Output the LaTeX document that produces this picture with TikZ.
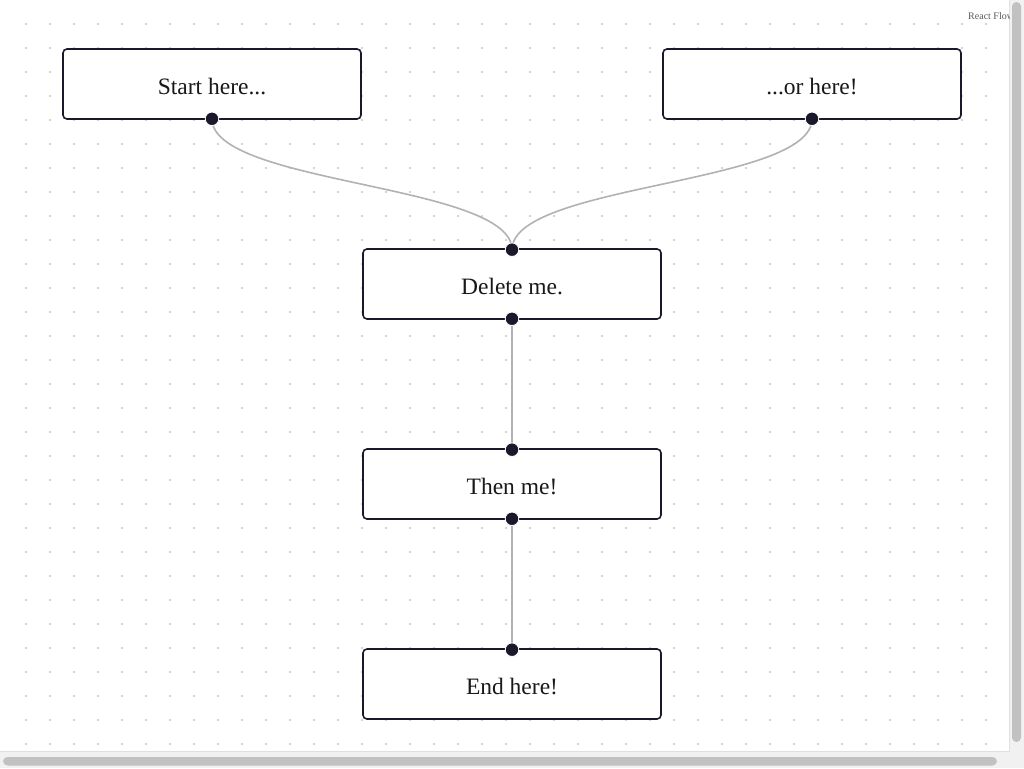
\documentclass[tikz,border=0pt]{standalone}
\usepackage{fontspec}
\setmainfont{Liberation Serif}
\usetikzlibrary{positioning,calc}
\definecolor{navy}{HTML}{1A192B}
\definecolor{edgegray}{HTML}{B1B1B7}
\definecolor{dotgray}{HTML}{A8A8B0}
\definecolor{thumbgray}{HTML}{C1C1C1}
\definecolor{trackgray}{HTML}{F1F1F1}
\pgfdeclarelayer{canvas}
\pgfdeclarelayer{edgelayer}
\pgfsetlayers{canvas,edgelayer,main}
\tikzset{
  flownode/.style={draw=navy,fill=white,rounded corners=4pt,line width=1.6pt,
    minimum width=298pt,minimum height=70pt,inner sep=0pt,
    text height=20pt,text depth=0pt,
    font=\fontsize{23.5}{27}\selectfont,text=black!90},
  handle/.style={circle,fill=navy,draw=white,line width=0.8pt,
    minimum size=13.5pt,inner sep=0pt},
  fedge/.style={draw=edgegray,line width=1.6pt},
  griddot/.style={fill=dotgray},
  thumb/.style={fill=thumbgray,rounded corners=4.5pt},
  attrib/.style={font=\fontsize{10}{12}\selectfont,text=black!65,anchor=west,inner sep=0pt},
}

\begin{document}
\begin{tikzpicture}[x=1pt,y=-1pt]
  \useasboundingbox (0,0) rectangle (1024,768);
  \begin{pgfonlayer}{canvas}
    \fill[trackgray] (0,0) rectangle (1024,768);
    \fill[white] (0,0) rectangle (1009.5,751.5);
    \draw[black!12,line width=0.8pt] (0,751.5) -- (1009.5,751.5) -- (1009.5,0);
    % background dots
    \foreach \i in {0,...,40}
      \foreach \j in {0,...,30}
        \fill[griddot] (26+24*\i,24+24*\j) circle (0.9pt);
    \fill[thumb] (1012,2) rectangle (1021,742);
    \fill[thumb] (3,757) rectangle (997,765.5);
    \begin{scope}
      \clip (0,0) rectangle (1009.5,751.5);
      \node[attrib] (credit) at (968,16) {React Flow};
    \end{scope}
  \end{pgfonlayer}

  \node[flownode] (start) at (212,84) {Start here...};
  \node[flownode] (orhere) at (812,84) {...or here!};
  \node[flownode] (delete) at (512,284) {Delete me.};
  \node[flownode] (thenme) at (512,484) {Then me!};
  \node[flownode] (endhere) at (512,684) {End here!};

  \node[handle] (start-out) at ($(start.south)+(0,-1)$) {};
  \node[handle] (orhere-out) at ($(orhere.south)+(0,-1)$) {};
  \node[handle] (delete-in) at ($(delete.north)+(0,1.5)$) {};
  \node[handle] (delete-out) at ($(delete.south)+(0,-1)$) {};
  \node[handle] (thenme-in) at ($(thenme.north)+(0,1.5)$) {};
  \node[handle] (thenme-out) at ($(thenme.south)+(0,-1)$) {};
  \node[handle] (endhere-in) at ($(endhere.north)+(0,1.5)$) {};

  \begin{pgfonlayer}{edgelayer}
    \draw[fedge] (start-out.center) .. controls +(0,66) and +(0,-66) .. (delete-in.center);
    \draw[fedge] (orhere-out.center) .. controls +(0,66) and +(0,-66) .. (delete-in.center);
    \draw[fedge] (delete-out.center) -- (thenme-in.center);
    \draw[fedge] (thenme-out.center) -- (endhere-in.center);
  \end{pgfonlayer}
\end{tikzpicture}
\end{document}
